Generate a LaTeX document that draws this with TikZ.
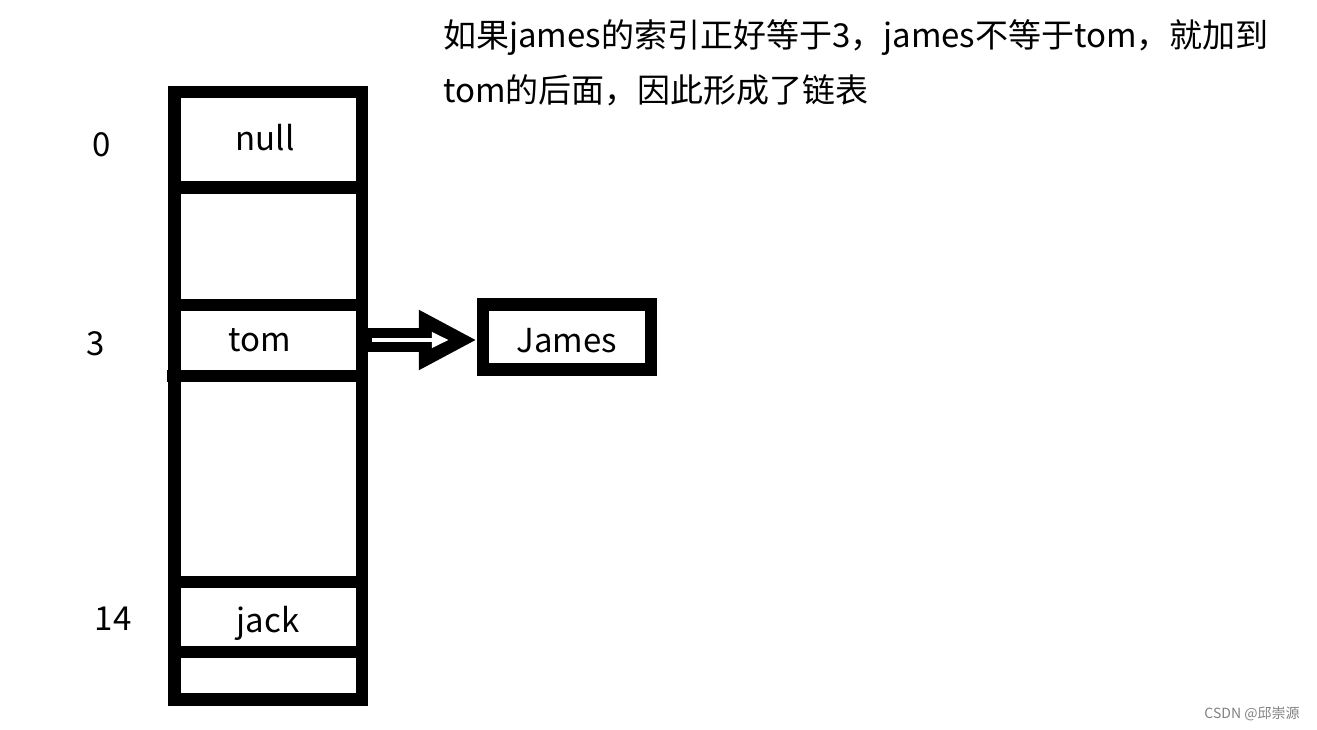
\documentclass[tikz,border=0pt]{standalone}
\usepackage{fontspec}
\newfontfamily\cjk{Noto Sans CJK SC}
\usetikzlibrary{arrows.meta, positioning}

\begin{document}
\begin{tikzpicture}[x=1pt, y=-1pt,
    label/.style={font=\cjk\fontsize{33}{40}\selectfont, inner sep=0pt, anchor=base},
    bar/.style={line width=12.5pt},
    chainbox/.style={draw, line width=12.5pt, minimum width=168pt, minimum height=65pt,
                     text height=30pt, text depth=0pt,
                     inner sep=0pt, font=\cjk\fontsize{33}{40}\selectfont},
    note/.style={font=\cjk\fontsize{33}{55}\selectfont, align=left, inner sep=0pt, anchor=base west},
    wmark/.style={font=\cjk\fontsize{14}{16}\selectfont, text=gray, inner sep=0pt},
    link/.style={line width=24pt, -{Triangle[length=58pt, width=56pt]}},
    linkin/.style={white, line width=4pt, -{Triangle[length=17pt, width=15pt]},
                   shorten <=10pt, shorten >=28pt},
]
    \useasboundingbox (0,0) rectangle (1317,730);

    % hash table
    \draw[bar] (174.5,92) rectangle (362,699.5);
    \foreach \y in {187.5,305,582,652}
        \draw[bar] (174.5,\y) -- (362,\y);
    \draw[bar] (167,376) -- (362,376);

    % indices and entries
    \node[label] (i0)  at (102,157) {0};
    \node[label] (i3)  at (96,355)  {3};
    \node[label] (i14) at (113,630) {14};
    \node[label] (null) at (265,151) {null};
    \node[label] (tom)  at (260,351) {tom};
    \node[label] (jack) at (268,632) {jack};
    \coordinate (slot3) at (362,340);

    % chained entry
    \node[chainbox] (james) at (567,337) {James\hspace{14pt}};
    \draw[link] (slot3) -- (slot3 -| james.west);
    \draw[linkin] (slot3) -- (slot3 -| james.west);

    \node[note] (note) at (443,103)
        {如果james的索引正好等于3，james不等于tom，就加到\\tom的后面，因此形成了链表};
    \node[wmark] (wm) at (1252,714) {CSDN @邱崇源};
\end{tikzpicture}
\end{document}
